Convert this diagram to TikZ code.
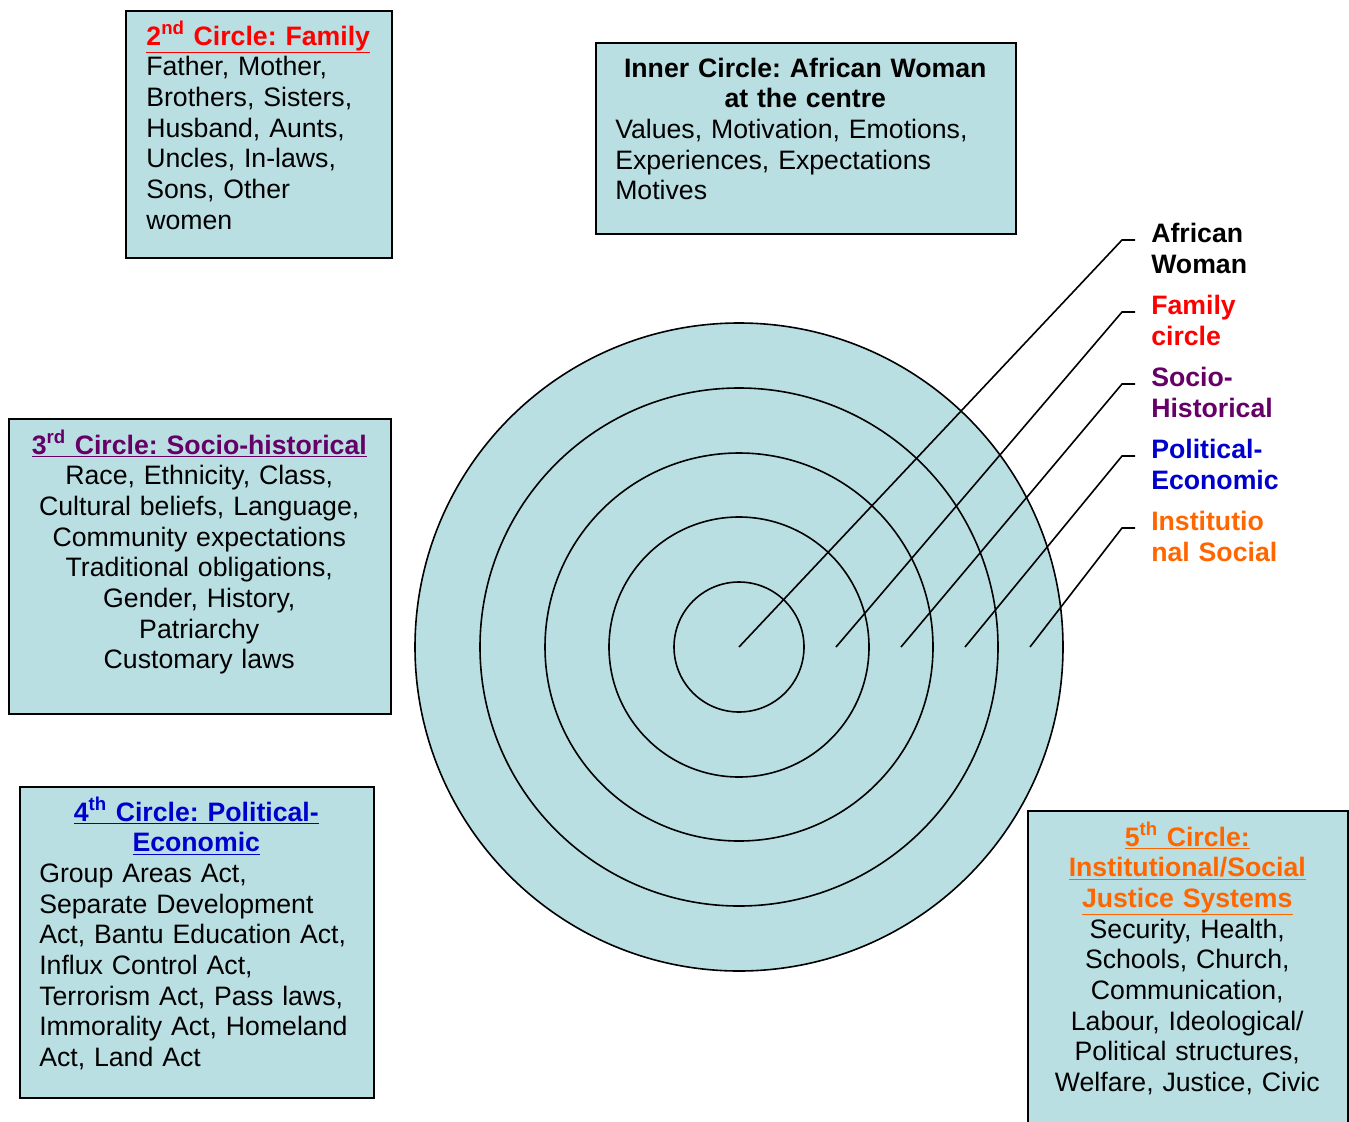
\documentclass[tikz,border=0pt]{standalone}
\usepackage{fontspec}
\setmainfont{Liberation Sans}
\frenchspacing
\definecolor{boxblue}{RGB}{185,223,227}
\definecolor{famred}{RGB}{255,0,0}
\definecolor{socpurple}{RGB}{102,0,102}
\definecolor{polblue}{RGB}{0,0,204}
\definecolor{instorange}{RGB}{255,102,0}
\newcommand{\boxtitle}[2]{\makebox[\linewidth]{\bfseries\color{#1}\underline{#2}}}
\begin{document}
\begin{tikzpicture}[x=0.75pt,y=-0.75pt,
    panel/.style={draw,line width=1.2pt,fill=boxblue,anchor=north west,inner sep=0pt},
    txt/.style={inner sep=0pt,anchor=base west,font=\fontsize{20}{23}\selectfont},
    tag/.style={txt,align=left,text width=150pt,font=\fontsize{20}{23.25}\selectfont\bfseries},
    ring/.style={draw,line width=1.2pt,fill=boxblue},
    lead/.style={line width=1.2pt}]
    \useasboundingbox (0,0) rectangle (1349,1121);

    % Kreise
    \coordinate (ctr) at (739,647);
    \foreach \r in {324,259,194,130,65}
        \draw[ring] (ctr) circle[radius=\r*0.75pt];

    % Kaesten
    \node[panel,minimum width=199.5pt,minimum height=185.25pt] (family) at (125,10) {};
    \node[panel,minimum width=315pt,minimum height=143.25pt] (inner) at (595,42) {};
    \node[panel,minimum width=286.5pt,minimum height=221.25pt] (socio) at (8,418) {};
    \node[panel,minimum width=265.5pt,minimum height=233.25pt] (polit) at (19,786) {};
    \node[panel,minimum width=240pt,minimum height=243.75pt] (instit) at (1027,810) {};

    % Texte
    \node[txt,text width=168pt,align=left] (familytxt) at (146,45)
        {\boxtitle{famred}{2\textsuperscript{nd} Circle: Family}\\
         Father, Mother,\\ Brothers, Sisters,\\ Husband, Aunts,\\
         Uncles, In-laws,\\ Sons, Other\\ women};
    \node[txt,text width=285pt,align=left] (innertxt) at (615,77)
        {\makebox[\linewidth]{\bfseries Inner Circle: African Woman}\\
         \makebox[\linewidth]{\bfseries at the centre}\\
         Values, Motivation, Emotions,\\ Experiences, Expectations\\ Motives};
    \node[txt,text width=270pt,align=center] (sociotxt) at (19,454)
        {{\bfseries\color{socpurple}\underline{3\textsuperscript{rd} Circle: Socio-historical}}\\
         Race, Ethnicity, Class,\\ Cultural beliefs, Language,\\
         Community expectations\\ Traditional obligations,\\
         Gender, History,\\ Patriarchy\\ Customary laws};
    \node[txt,text width=235.5pt,align=left] (polittxt) at (39,821)
        {\boxtitle{polblue}{4\textsuperscript{th} Circle: Political-}\\
         \boxtitle{polblue}{Economic}\\
         Group Areas Act,\\ Separate Development\\ Act, Bantu Education Act,\\
         Influx Control Act,\\ Terrorism Act, Pass laws,\\
         Immorality Act, Homeland\\ Act, Land Act};
    \node[txt,text width=210pt,align=center] (instittxt) at (1047,846)
        {{\bfseries\color{instorange}\underline{5\textsuperscript{th} Circle:}}\\
         {\bfseries\color{instorange}\underline{Institutional/Social}}\\
         {\bfseries\color{instorange}\underline{Justice Systems}}\\
         Security, Health,\\ Schools, Church,\\ Communication,\\
         Labour, Ideological/\\ Political structures,\\ Welfare, Justice, Civic};

    % Beschriftung der Ringe
    \node[tag] (woman) at (1151,242) {African\\Woman};
    \node[tag,text=famred] (famring) at (1151,314) {Family\\circle};
    \node[tag,text=socpurple] (socring) at (1151,386) {Socio-\\Historical};
    \node[tag,text=polblue] (polring) at (1151,458) {Political-\\Economic};
    \node[tag,text=instorange] (instring) at (1151,530) {Institutio\\nal Social};

    % Linien
    \foreach \sx/\ey [count=\i] in {739/240,836/312,901/384,965/456,1030/528} {
        \coordinate (foot\i) at (\sx,647);
        \coordinate (knee\i) at (1122,\ey);
        \coordinate (tip\i) at (1135,\ey);
        \draw[lead] (foot\i) -- (knee\i) -- (tip\i);
    }
\end{tikzpicture}
\end{document}
